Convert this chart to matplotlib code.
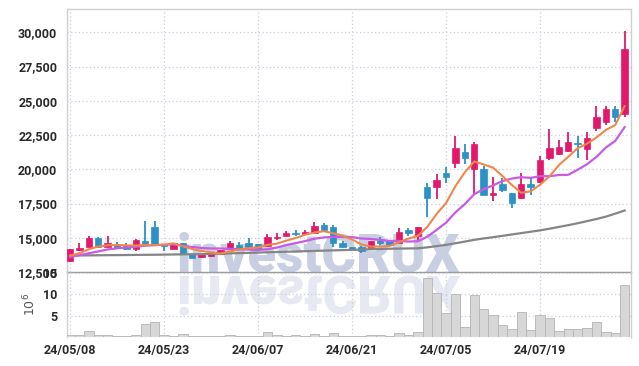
import matplotlib
matplotlib.use("Agg")
import matplotlib.pyplot as plt
from matplotlib.textpath import TextPath
from matplotlib.patches import PathPatch
from matplotlib.font_manager import FontProperties
from matplotlib.transforms import Affine2D, IdentityTransform
import numpy as np

# trading days (2024)
dates = ["05/08", "05/09", "05/10", "05/13", "05/14", "05/16", "05/17", "05/20", "05/21", "05/22",
         "05/23", "05/24", "05/27", "05/28", "05/29", "05/30", "05/31", "06/03", "06/04", "06/05",
         "06/07", "06/10", "06/11", "06/12", "06/13", "06/14", "06/17", "06/18", "06/19", "06/20",
         "06/21", "06/24", "06/25", "06/26", "06/27", "06/28", "07/01", "07/02", "07/03", "07/04",
         "07/05", "07/08", "07/09", "07/10", "07/11", "07/12", "07/15", "07/16", "07/17", "07/18",
         "07/19", "07/22", "07/23", "07/24", "07/25", "07/26", "07/29", "07/30", "07/31", "08/01"]

opens = [13300, 14100, 14300, 15000, 14350, 14580, 14500, 14150, 14800, 15750,
         14500, 14150, 14600, 13800, 13570, 13700, 13800, 14250, 14500, 14600,
         14550, 14400, 15000, 15100, 15350, 15250, 15350, 15950, 15750, 14650,
         14350, 14350, 14250, 14750, 14800, 14650, 15550, 15100, 18700, 18700,
         19750, 20450, 21250, 20000, 20000, 18150, 18950, 18250, 17900, 18950,
         19050, 20850, 21100, 21300, 21950, 21500, 23000, 23450, 24400, 24050]
highs = [14200, 14650, 15150, 15050, 15150, 14700, 14600, 14900, 16200, 16250,
         14550, 14600, 14650, 13800, 13800, 13950, 14100, 14800, 14700, 14950,
         14550, 15250, 15350, 15500, 15550, 15600, 16150, 16050, 15950, 14800,
         14350, 14400, 14800, 15050, 14850, 15700, 15700, 15800, 19000, 19650,
         20150, 22400, 21850, 22000, 20250, 19450, 19350, 18250, 19700, 19350,
         21000, 22950, 22150, 22750, 22400, 22700, 24600, 24600, 24600, 30100]
lows = [13250, 14050, 14300, 14280, 14300, 14200, 14100, 14050, 14500, 14500,
        14000, 14150, 13750, 13500, 13500, 13600, 13750, 14200, 14200, 14250,
        14150, 14400, 14850, 15100, 15150, 15200, 15300, 15500, 14350, 14230,
        14050, 13900, 14200, 14450, 14450, 14600, 15150, 14700, 16550, 17800,
        19000, 20100, 20400, 18200, 18150, 17700, 18350, 17200, 17850, 18150,
        19000, 20650, 21050, 21250, 20800, 20650, 22800, 23250, 23450, 23850]
closes = [14150, 14250, 14950, 14300, 14600, 14250, 14150, 14850, 14550, 14550,
          14400, 14600, 13800, 13550, 13800, 13950, 14100, 14600, 14250, 14300,
          14200, 15050, 15050, 15350, 15250, 15400, 15850, 15550, 14600, 14300,
          14100, 14000, 14750, 14650, 14500, 15450, 15350, 15750, 17900, 19250,
          19400, 21550, 20800, 21850, 18150, 18250, 18500, 17550, 18950, 18700,
          20650, 21550, 21650, 22000, 21850, 22300, 23800, 24400, 23800, 28750]

ma5 = [13700, 13870, 14160, 14360, 14450, 14470, 14450, 14430, 14480, 14470,
       14500, 14590, 14380, 14180, 14030, 13940, 13840, 14000, 14140, 14240,
       14290, 14480, 14570, 14790, 14980, 15220, 15380, 15480, 15330, 15140,
       14880, 14510, 14350, 14360, 14400, 14670, 14940, 15140, 15790, 16740,
       17530, 18770, 19780, 20570, 20350, 20120, 19510, 18860, 18280, 18390,
       18870, 19480, 20300, 20910, 21540, 21870, 22320, 22870, 23230, 24610]
ma10 = [13600, 13730, 13870, 14000, 14150, 14230, 14290, 14350, 14420, 14460,
        14485, 14520, 14405, 14330, 14250, 14220, 14215, 14190, 14160, 14135,
        14115, 14160, 14285, 14465, 14610, 14755, 14930, 15025, 15060, 15060,
        15050, 14945, 14915, 14845, 14770, 14775, 14725, 14745, 15075, 15570,
        16100, 16855, 17460, 18180, 18545, 18825, 19140, 19320, 19425, 19370,
        19495, 19495, 19580, 19595, 19965, 20370, 20900, 21585, 22070, 23075]
ma_long = [13700, 13710, 13715, 13720, 13730, 13735, 13740, 13750, 13755, 13760,
           13770, 13780, 13790, 13800, 13800, 13820, 13840, 13860, 13880, 13900,
           13920, 13940, 13960, 13980, 14000, 14020, 14040, 14060, 14080, 14100,
           14120, 14140, 14160, 14180, 14200, 14210, 14220, 14230, 14300, 14390,
           14480, 14600, 14720, 14850, 14950, 15040, 15140, 15240, 15340, 15440,
           15540, 15660, 15790, 15920, 16060, 16210, 16370, 16540, 16760, 16990]

# volume, millions
volume = [0.4, 0.45, 1.4, 0.45, 0.4, 0.25, 0.25, 0.5, 3.1, 3.5,
          0.5, 0.3, 0.7, 0.3, 0.25, 0.2, 0.2, 0.4, 0.25, 0.2,
          0.2, 1.2, 0.5, 0.3, 0.5, 0.3, 0.7, 0.35, 0.95, 0.3,
          0.2, 0.3, 0.5, 0.45, 0.3, 1.0, 0.5, 1.2, 13.8, 10.2,
          5.55, 10.05, 2.45, 9.8, 6.5, 5.1, 2.85, 1.8, 5.8, 1.6,
          5.1, 4.4, 1.35, 1.8, 1.8, 2.05, 3.45, 1.2, 0.95, 12.2]

price_ticks = [12500, 15000, 17500, 20000, 22500, 25000, 27500, 30000]
vol_ticks = [5, 10, 15]
label_idx = [0, 10, 20, 30, 40, 50]

UP = "#e3186b"
DOWN = "#2b91c7"
GRID = "#c9cfe0"
LBL = "#2a2a2a"

fig = plt.figure(figsize=(6.39, 3.66), dpi=100)
ax = fig.add_axes([0.1049, 0.2568, 0.8826, 0.7186])
axv = fig.add_axes([0.1049, 0.0792, 0.8826, 0.1776], sharex=ax)
for a in (ax, axv):
    a.set_facecolor("none")

x = np.arange(len(closes))
o = np.array(opens); c = np.array(closes)
cols = [UP if cc >= oo else DOWN for oo, cc in zip(o, c)]

ax.vlines(x, lows, highs, colors=cols, linewidth=1.3, zorder=3)
body_h = np.maximum(np.abs(c - o), 60)
ax.bar(x, body_h, bottom=np.minimum(o, c), width=0.68, color=cols, edgecolor=cols,
       linewidth=0.5, zorder=4)

ax.plot(x, ma_long, color="#858585", linewidth=1.6, zorder=5)
ax.plot(x, ma10, color="#c95ae6", linewidth=1.6, zorder=5)
ax.plot(x, ma5, color="#f0874a", linewidth=1.5, zorder=6)

axv.bar(x, volume, width=1.0, color="#d7d7d7", edgecolor="#b4b4b4", linewidth=0.6, zorder=3)

ax.set_xlim(-0.32, 59.68)
ax.set_ylim(12500, 31700)
axv.set_ylim(0, 15.2)

lfont = dict(family="Roboto", weight="bold", size=9)
ax.set_yticks(price_ticks)
ax.set_yticklabels([f"{v:,}" for v in price_ticks], color=LBL, **lfont)
axv.set_yticks(vol_ticks)
axv.set_yticklabels([str(v) for v in vol_ticks], color=LBL, **lfont)
axv.set_xticks(label_idx)
axv.set_xticklabels(["24/" + dates[i] for i in label_idx], color=LBL, **lfont)
ax.tick_params(axis="x", labelbottom=False, length=0)
ax.tick_params(axis="y", length=0, pad=7)
axv.tick_params(axis="both", length=0)
axv.tick_params(axis="y", pad=7)
axv.tick_params(axis="x", pad=5)
axv.set_ylabel(r"$10^6$", color="#555555", fontsize=9, labelpad=3)

for a in (ax, axv):
    a.grid(True, color=GRID, linestyle=(0, (1, 2)), linewidth=0.9, zorder=0)
    for s in a.spines.values():
        s.set_color("#cfcfcf")
        s.set_linewidth(1.0)
ax.spines["bottom"].set_color("#9a9a9a")
axv.spines["top"].set_visible(False)
axv.spines["bottom"].set_visible(False)

# watermark and its reflection
wm = "investCRUX"
fp = FontProperties(family="Roboto", weight="black", size=38)
fig.text(177 / 639, 1 - 272 / 366, wm, fontproperties=fp, color="#c8cfe2",
         ha="left", va="baseline", zorder=-1)
tp = TextPath((0, 0), wm, prop=fp, size=38 * 100 / 72)
ref = PathPatch(tp, facecolor="#e6e9f1", edgecolor="none", zorder=-1,
                transform=Affine2D().scale(1, -1).translate(177, 366 - 276) + IdentityTransform())
fig.patches.append(ref)

fig.savefig("out.png", dpi=100)
